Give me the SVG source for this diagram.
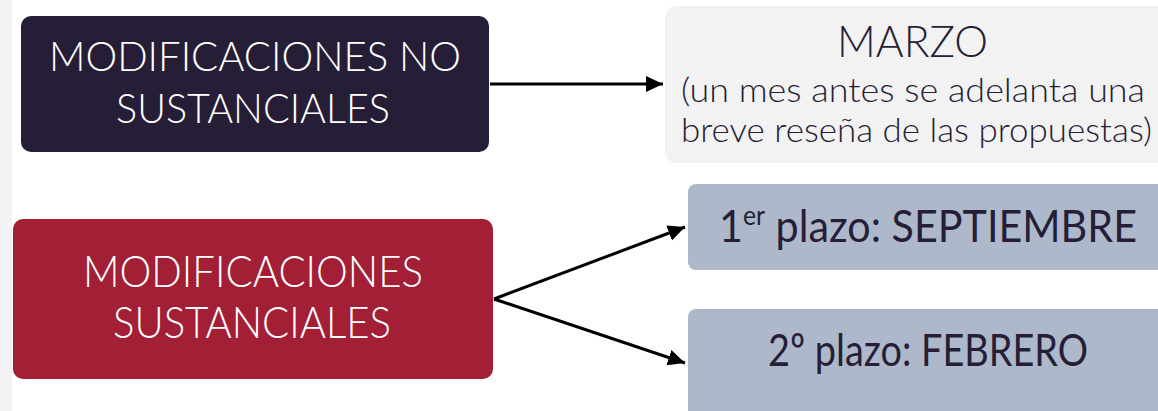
<svg xmlns="http://www.w3.org/2000/svg" width="1158" height="411" viewBox="0 0 1158 411">
<defs>
<style>
.t{font-family:Lato,"Open Sans","Liberation Sans",sans-serif;}
.lt{font-weight:300;fill:#ffffff;}
.dk{fill:#261e36;}
.conn{stroke:#000;stroke-width:3;fill:none;}
</style>
<marker id="ah" markerUnits="userSpaceOnUse" markerWidth="18" markerHeight="18" viewBox="0 0 18 18" refX="17" refY="9" orient="auto">
<path d="M0,1 L17,9 L0,17 Z" fill="#000"/>
</marker>
</defs>
<rect x="0" y="0" width="1158" height="411" fill="#ffffff"/>
<rect x="0" y="0" width="12" height="411" fill="#f3f3f5"/>

<g id="no-sustanciales">
<rect x="21" y="16" width="468" height="136" rx="10" fill="#261e36"/>
<text class="t lt" x="49" y="71" font-size="41" textLength="412" lengthAdjust="spacingAndGlyphs">MODIFICACIONES NO</text>
<text class="t lt" x="116" y="123" font-size="41" textLength="274" lengthAdjust="spacingAndGlyphs">SUSTANCIALES</text>
</g>

<g id="marzo">
<rect x="665" y="6" width="510" height="157" rx="12" fill="#f2f2f2"/>
<text class="t dk" x="837" y="57" font-size="43" font-weight="300" textLength="151" lengthAdjust="spacingAndGlyphs">MARZO</text>
<text class="t dk" x="681" y="102" font-size="34" font-weight="300" textLength="464" lengthAdjust="spacingAndGlyphs">(un mes antes se adelanta una</text>
<text class="t dk" x="681" y="142" font-size="34" font-weight="300" textLength="471" lengthAdjust="spacingAndGlyphs">breve reseña de las propuestas)</text>
</g>

<g id="sustanciales">
<rect x="13" y="219" width="480" height="160" rx="10" fill="#a31f36"/>
<text class="t lt" x="83" y="287" font-size="44" textLength="340" lengthAdjust="spacingAndGlyphs">MODIFICACIONES</text>
<text class="t lt" x="113" y="338" font-size="44" textLength="278" lengthAdjust="spacingAndGlyphs">SUSTANCIALES</text>
</g>

<g id="plazo1">
<rect x="688" y="184" width="490" height="86" rx="8" fill="#adb9ca"/>
<text class="t dk" x="719" y="242" font-size="45" textLength="418" lengthAdjust="spacingAndGlyphs">1<tspan font-size="27" dy="-17">er</tspan><tspan dy="17"> plazo: SEPTIEMBRE</tspan></text>
</g>

<g id="plazo2">
<rect x="688" y="309" width="490" height="120" rx="8" fill="#adb9ca"/>
<text class="t dk" x="768" y="366" font-size="45" textLength="320" lengthAdjust="spacingAndGlyphs">2º plazo: FEBRERO</text>
</g>

<g id="connectors">
<line class="conn" x1="490" y1="84" x2="663" y2="84" marker-end="url(#ah)"/>
<line class="conn" x1="494" y1="299" x2="685" y2="227" marker-end="url(#ah)"/>
<line class="conn" x1="494" y1="299" x2="685" y2="363" marker-end="url(#ah)"/>
</g>
</svg>
